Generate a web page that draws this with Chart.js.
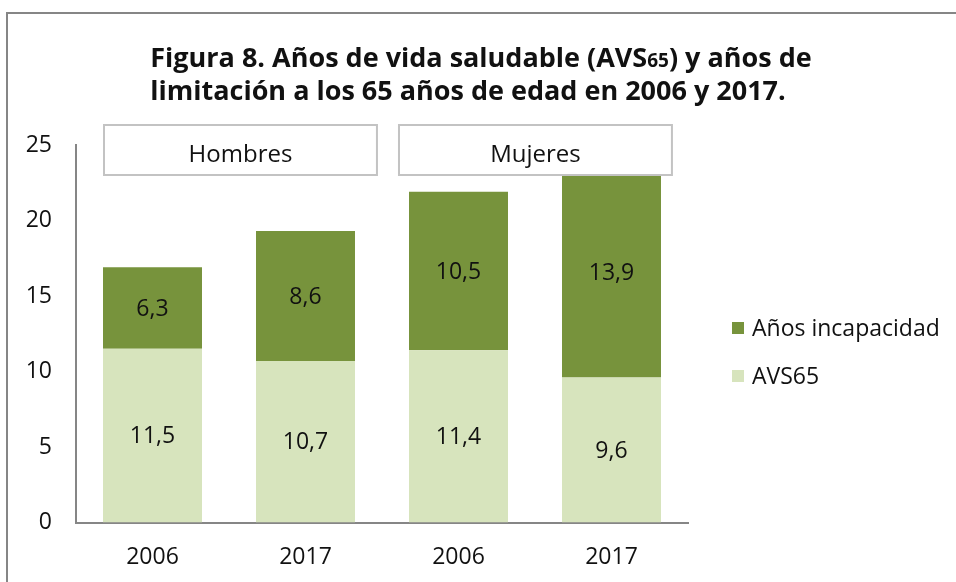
<!DOCTYPE html>
<html>
<head>
<meta charset="utf-8">
<script src="https://cdn.jsdelivr.net/npm/chart.js@4.4.1/dist/chart.umd.min.js"></script>
<style>
  html, body { margin: 0; padding: 0; background: #fff; overflow: hidden; }
  #wrap { width: 956px; height: 582px; position: relative; }
</style>
</head>
<body>
<div id="wrap"><canvas id="c" width="956" height="582"></canvas></div>
<script>
// values
var categories = ["2006", "2017", "2006", "2017"];
var avs65 = [11.5, 10.7, 11.4, 9.6];
var incapacidad = [5.4, 8.6, 10.5, 13.9];
// printed labels (the first dark bar is drawn shorter than its label says)
var avsLabels = ["11,5", "10,7", "11,4", "9,6"];
var incapLabels = ["6,3", "8,6", "10,5", "13,9"];
var groupNames = ["Hombres", "Mujeres"];
var yTicks = [0, 5, 10, 15, 20, 25];

var FONT = "'Open Sans', Lato, sans-serif";
var AXIS = "#868686";

// group boxes, spans in category units
var groupSpans = [[-0.317, 1.467], [1.611, 3.395]];

function drawTitleLine(ctx, parts, cx, y) {
  var w = 0;
  parts.forEach(function(p) {
    ctx.font = "bold " + p[1] + "px " + FONT;
    w += ctx.measureText(p[0]).width;
  });
  var x = cx - w / 2;
  parts.forEach(function(p) {
    ctx.font = "bold " + p[1] + "px " + FONT;
    ctx.fillText(p[0], x, y);
    x += ctx.measureText(p[0]).width;
  });
}

var extras = {
  id: "extras",
  beforeDraw: function(chart) {
    var ctx = chart.ctx;
    ctx.save();
    ctx.fillStyle = "#fff";
    ctx.fillRect(0, 0, chart.width, chart.height);
    ctx.strokeStyle = AXIS;
    ctx.lineWidth = 2;
    ctx.strokeRect(7, 13, chart.width + 20, chart.height + 20);
    ctx.restore();
  },
  afterDatasetsDraw: function(chart) {
    var ctx = chart.ctx;
    var x = chart.scales.x;
    ctx.save();

    // values inside the segments
    var texts = [avsLabels, incapLabels];
    ctx.font = "23px " + FONT;
    ctx.fillStyle = "#111";
    ctx.textAlign = "center";
    ctx.textBaseline = "middle";
    chart.data.datasets.forEach(function(ds, i) {
      chart.getDatasetMeta(i).data.forEach(function(el, j) {
        ctx.fillText(texts[i][j], el.x, (el.y + el.base) / 2 + 1);
      });
    });

    // Hombres / Mujeres boxes
    groupNames.forEach(function(name, g) {
      var l = x.getPixelForValue(groupSpans[g][0]);
      var r = x.getPixelForValue(groupSpans[g][1]);
      ctx.fillStyle = "#fff";
      ctx.fillRect(l, 125, r - l, 50);
      ctx.strokeStyle = "#c3c3c3";
      ctx.lineWidth = 2;
      ctx.strokeRect(l, 125, r - l, 50);
      ctx.fillStyle = "#111";
      ctx.font = "24px " + FONT;
      ctx.fillText(name, (l + r) / 2, 155);
    });

    // legend, dark series first
    var items = [chart.data.datasets[1], chart.data.datasets[0]];
    ctx.textAlign = "left";
    ctx.font = "23px " + FONT;
    items.forEach(function(ds, k) {
      var cy = 328 + k * 48;
      ctx.fillStyle = ds.backgroundColor;
      ctx.fillRect(732, cy - 6, 12, 12);
      ctx.fillStyle = "#111";
      ctx.fillText(ds.label, 752, cy + 1);
    });

    // title with the small "65"
    ctx.fillStyle = "#111";
    ctx.textAlign = "left";
    ctx.textBaseline = "alphabetic";
    drawTitleLine(ctx, [["Figura 8. Años de vida saludable (AVS", 27], ["65", 19], [") y años de", 27]], 481, 67);
    drawTitleLine(ctx, [["limitación a los 65 años de edad en 2006 y 2017.", 27]], 468, 100);

    ctx.restore();
  }
};

new Chart(document.getElementById("c"), {
  type: "bar",
  data: {
    labels: categories,
    datasets: [
      { label: "AVS65", data: avs65, backgroundColor: "#d7e4bd",
        barPercentage: 0.647, categoryPercentage: 1 },
      { label: "Años incapacidad", data: incapacidad, backgroundColor: "#77933c",
        barPercentage: 0.647, categoryPercentage: 1 }
    ]
  },
  options: {
    responsive: false,
    animation: false,
    layout: { padding: { left: 0, right: 268, top: 145, bottom: 0 } },
    plugins: {
      legend: { display: false },
      title: { display: false },
      tooltip: { enabled: false }
    },
    scales: {
      x: {
        stacked: true,
        grid: { display: false, drawTicks: false },
        border: { display: true, color: AXIS, width: 2 },
        ticks: { color: "#111", font: { family: FONT, size: 23 }, padding: 21 },
        afterFit: function(s) { s.height = 59.5; }
      },
      y: {
        stacked: true,
        min: 0,
        max: 25,
        grid: { display: false, drawTicks: false },
        border: { display: true, color: AXIS, width: 2 },
        ticks: { color: "#111", font: { family: FONT, size: 23 }, padding: 24 },
        afterBuildTicks: function(s) { s.ticks = yTicks.map(function(v) { return { value: v }; }); },
        afterFit: function(s) { s.width = 76; }
      }
    }
  },
  plugins: [extras]
});
</script>
</body>
</html>
